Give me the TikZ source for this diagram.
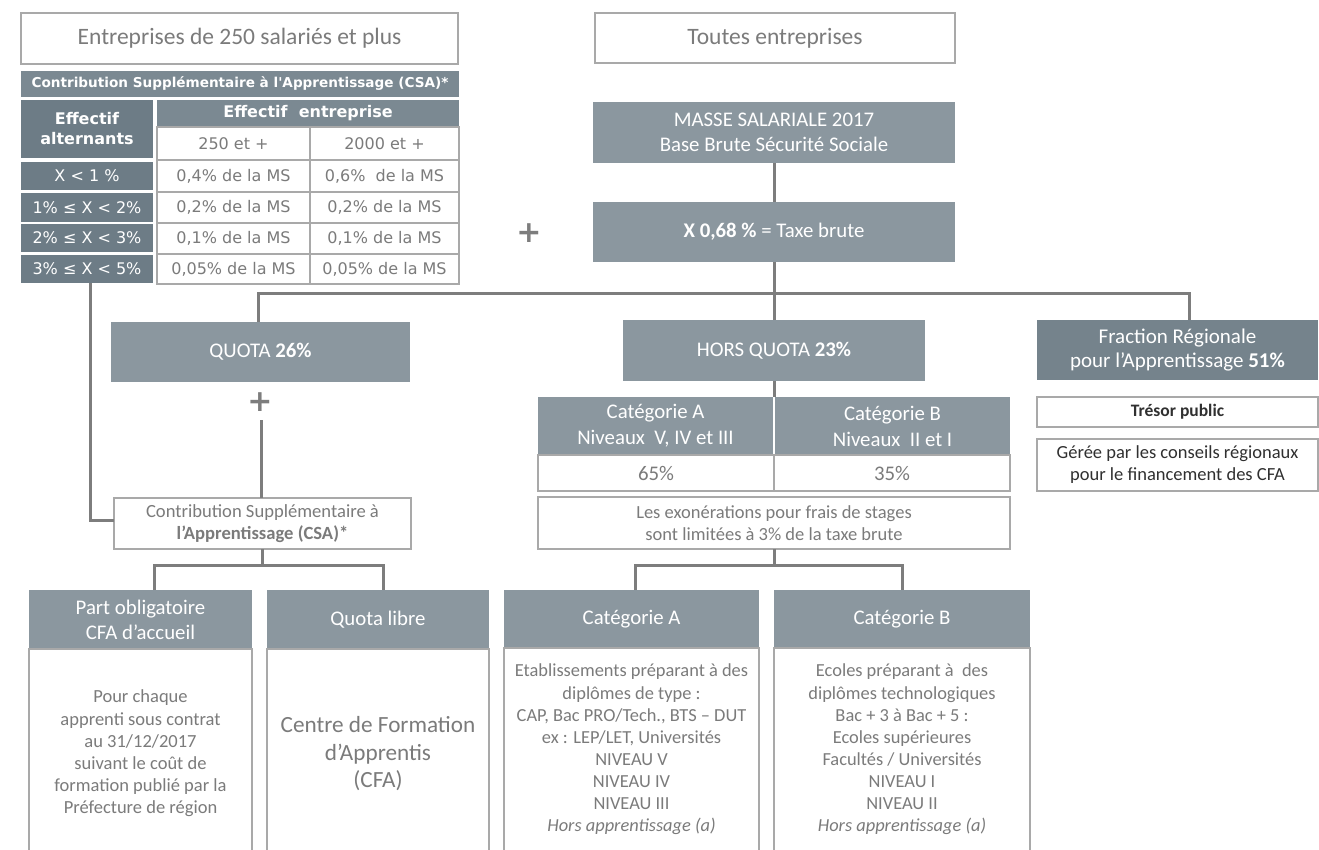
\documentclass[tikz,border=0pt]{standalone}
\usepackage{fontspec}
\setmainfont{Carlito}
\newfontfamily\vfont{DejaVu Sans}
\definecolor{boxgray}{HTML}{8B979F}
\definecolor{darkcell}{HTML}{6D7C86}
\definecolor{barcol}{HTML}{7B8992}
\definecolor{fraccol}{HTML}{75838C}
\definecolor{linegray}{HTML}{7D7D7D}
\definecolor{bordergray}{HTML}{A9A9A9}
\definecolor{txtgray}{HTML}{7B7B7B}
\definecolor{darktxt}{HTML}{303030}
\newcommand\fs[2]{\fontsize{#1}{#2}\selectfont}
\newcommand\bx[7]{%
  \pgfmathsetmacro\cx{(#3+#5)/2}\pgfmathsetmacro\cy{(#4+#6)/2}%
  \pgfmathsetmacro\ww{#5-#3}\pgfmathsetmacro\hh{#6-#4}%
  \node[#1, minimum width=\ww pt, minimum height=\hh pt] (#2) at (\cx,\cy) {#7};}
\tikzset{
  dk/.style={fill=boxgray, text=white, inner sep=0pt, outer sep=0pt, align=center},
  wb/.style={draw=bordergray, line width=1.5pt, fill=white, text=txtgray, inner sep=0pt, outer sep=0pt, align=center},
  cellL/.style={fill=darkcell, text=white, inner sep=0pt, outer sep=0pt, align=center, font={\vfont\fs{16}{20}}},
  cellR/.style={draw=bordergray, line width=1.2pt, fill=white, text=txtgray, inner sep=0pt, outer sep=0pt, align=center, font={\vfont\fs{16}{20}}},
  conn/.style={draw=linegray, line width=3pt},
  txt/.style={inner sep=0pt, outer sep=0pt, align=center},
  plussign/.style={inner sep=0pt, text=linegray, font={\vfont\bfseries\fs{30}{30}}},
}
\begin{document}
\begin{tikzpicture}[x=1pt,y=-1pt]
\useasboundingbox (0,0) rectangle (1319,849);
\clip (0,0) rectangle (1319,849);
\fill[white] (0,0) rectangle (1319,849);

% ---- left top: titles and table
\bx{wb, font={\fs{23.5}{27}}}{title1}{21}{13}{458}{64}{Entreprises de 250 salariés et plus}
\bx{dk, fill=barcol, font={\vfont\bfseries\fs{13.6}{16}}}{csabar}{21}{71}{459}{97}{Contribution Supplémentaire à l'Apprentissage (CSA)*}
\bx{cellL, font={\vfont\bfseries\fs{16}{20}}}{effalt}{21}{100}{153}{158}{Effectif\\alternants}
\bx{cellL, fill=barcol, font={\vfont\bfseries\fs{16}{20}}}{effent}{157}{100}{459}{127}{Effectif\ \ entreprise}
\bx{cellR}{c250}{157}{127}{310}{160}{250 et +}
\bx{cellR}{c2000}{310}{127}{459}{160}{2000 et +}
\bx{cellL}{r1a}{21}{162}{153}{190}{X < 1 \%}
\bx{cellR}{r1b}{157}{160}{310}{192}{0,4\% de la MS}
\bx{cellR}{r1c}{310}{160}{459}{192}{0,6\%\ \ de la MS}
\bx{cellL}{r2a}{21}{193}{153}{222}{1\% ≤ X < 2\%}
\bx{cellR}{r2b}{157}{192}{310}{223}{0,2\% de la MS}
\bx{cellR}{r2c}{310}{192}{459}{223}{0,2\% de la MS}
\bx{cellL}{r3a}{21}{224}{153}{252}{2\% ≤ X < 3\%}
\bx{cellR}{r3b}{157}{223}{310}{254}{0,1\% de la MS}
\bx{cellR}{r3c}{310}{223}{459}{254}{0,1\% de la MS}
\bx{cellL}{r4a}{21}{255}{153}{283}{3\% ≤ X < 5\%}
\bx{cellR}{r4b}{157}{254}{310}{284}{0,05\% de la MS}
\bx{cellR}{r4c}{310}{254}{459}{284}{0,05\% de la MS}

% ---- centre top
\bx{wb, font={\fs{23.5}{27}}}{toutes}{595}{13}{955}{63}{Toutes entreprises}
\bx{dk, font={\fs{20.8}{25}}}{masse}{593}{102}{955}{163}{MASSE SALARIALE 2017\\Base Brute Sécurité Sociale}
\bx{dk, font={\fs{20.8}{25}}}{taxe}{593}{202}{955}{262}{\textbf{X 0,68 \%} = Taxe brute}
\node[plussign] (plus1) at (529,233) {+};

% ---- second level
\bx{dk, font={\fs{20.8}{25}}}{quota}{111}{322}{410}{382}{QUOTA \textbf{26\%}}
\bx{dk, font={\fs{20.8}{25}}}{hors}{623}{320}{925}{381}{HORS QUOTA \textbf{23\%}}
\bx{dk, fill=fraccol, font={\fs{21}{24}}}{frac}{1037}{320}{1318}{380}{Fraction Régionale\\pour l’Apprentissage \textbf{51\%}}
\bx{wb, text=darktxt, font={\bfseries\fs{17.5}{20}}}{tresor}{1037}{397}{1318}{427}{Trésor public}
\bx{wb, text=darktxt, font={\fs{18.5}{22}}}{geree}{1037}{439}{1318}{491}{Gérée par les conseils régionaux\\pour le financement des CFA}

\node[plussign] (plus2) at (260,402) {+};
\bx{wb, font={\fs{18.6}{22}}}{csa2}{114}{498}{411}{549}{Contribution Supplémentaire à\\\textbf{l’Apprentissage (CSA)*}}

\bx{dk, fill=boxgray, font={\fs{20.8}{26}}}{catA}{538}{397}{773}{455}{Catégorie A\\Niveaux\ \ V, IV et III}
\bx{dk, fill=boxgray, font={\fs{20.8}{26}}}{catB}{775}{397}{1010}{455}{Catégorie B\\Niveaux\ \ II et I}
\bx{wb, font={\fs{20.8}{24}}}{pA}{538}{455}{774}{491}{65\%}
\bx{wb, font={\fs{20.8}{24}}}{pB}{774}{455}{1010}{491}{35\%}
\bx{wb, font={\fs{18.5}{22}}}{exo}{538}{497}{1010}{549}{Les exonérations pour frais de stages\\sont limitées à 3\% de la taxe brute}

% ---- bottom boxes
\bx{dk, font={\fs{20.8}{25}}}{partH}{29}{590}{252}{649}{Part obligatoire\\CFA d’accueil}
\bx{wb}{partB}{29}{649}{252}{870}{}
\bx{dk, font={\fs{20.8}{25}}}{libreH}{267}{590}{489}{649}{Quota libre}
\bx{wb}{libreB}{267}{649}{489}{870}{}
\bx{dk, font={\fs{20.8}{25}}}{catAH}{504}{590}{759}{648}{Catégorie A}
\bx{wb}{catAB}{504}{648}{759}{870}{}
\bx{dk, font={\fs{20.8}{25}}}{catBH}{774}{590}{1030}{648}{Catégorie B}
\bx{wb}{catBB}{774}{648}{1030}{870}{}

\node[txt, text=txtgray, font={\fs{18.5}{22.2}}] (partT) at (140.5,753.5) {Pour chaque\\apprenti sous contrat\\au 31/12/2017\\suivant le coût de\\formation publié par la\\Préfecture de région};
\node[txt, text=txtgray, font={\fs{23.2}{27.5}}] (libreT) at (378,754) {Centre de Formation\\d’Apprentis\\(CFA)};
\node[txt, text=txtgray, font={\fs{18.4}{22.1}}] (catAT) at (631.5,749.5) {Etablissements préparant à des\\diplômes de type :\\CAP, Bac PRO/Tech., BTS – DUT\\ex : LEP/LET, Universités\\NIVEAU V\\NIVEAU IV\\NIVEAU III\\\textit{Hors apprentissage (a)}};
\node[txt, text=txtgray, font={\fs{18.4}{22.1}}] (catBT) at (902,749.5) {Ecoles préparant à\ \ des\\diplômes technologiques\\Bac + 3 à Bac + 5 :\\Ecoles supérieures\\Facultés / Universités\\NIVEAU I\\NIVEAU II\\\textit{Hors apprentissage (a)}};

% ---- connectors
\coordinate (bus) at (774,293);
\coordinate (qline) at (261,420);
\coordinate (csasplit) at (262.5,565);
\coordinate (exosplit) at (774,565);
\draw[conn] (masse.south) -- (taxe.north);
\draw[conn] (taxe.south) -- (hors.north);
\draw[conn] ([xshift=-2pt]quota.north) |- (bus) -| ([xshift=11.5pt]frac.north);
\draw[conn] (hors.south) -- (hors.south |- catA.north);
\draw[conn] (qline) -- (qline |- csa2.north);
\draw[conn] ([xshift=3pt]r4a.south) |- ([yshift=3pt]csa2.west);
\draw[conn] (csa2.south) -- (csasplit);
\draw[conn] (csasplit) -| ([xshift=13.5pt]partH.north);
\draw[conn] (csasplit) -| ([xshift=5pt]libreH.north);
\draw[conn] (exo.south) -- (exosplit);
\draw[conn] (exosplit) -| ([xshift=3.5pt]catAH.north);
\draw[conn] (exosplit) -| (catBH.north);
\end{tikzpicture}
\end{document}
